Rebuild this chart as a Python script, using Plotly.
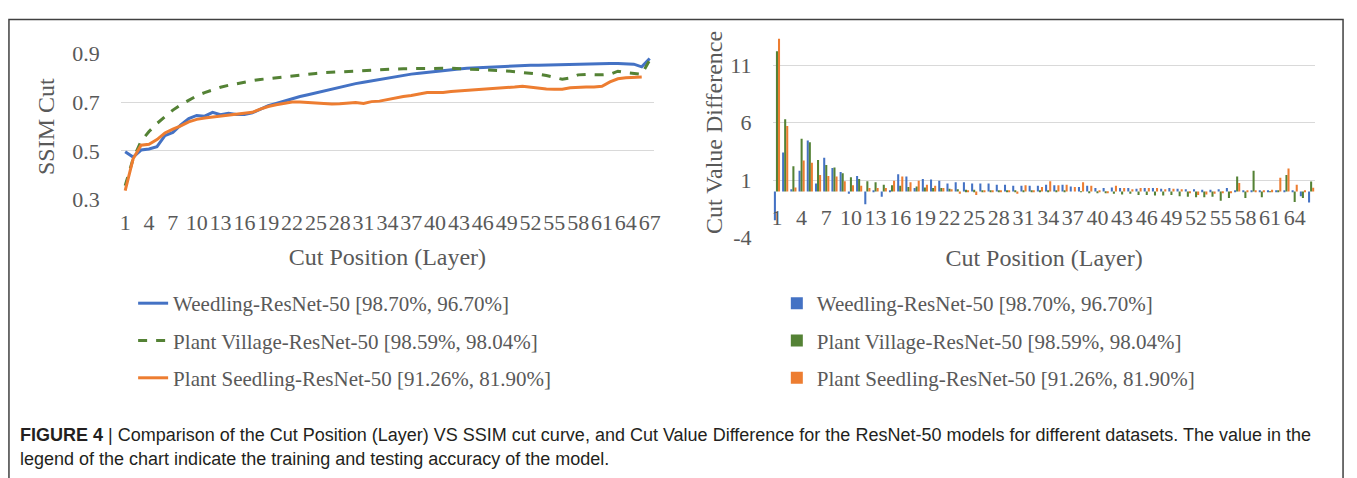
import plotly.graph_objects as go

W, H = 1357, 478

# ---------------- data ----------------
layers_line = list(range(1, 68))          # cut positions for the SSIM curve
layers_bar = list(range(1, 67))           # cut positions for the difference bars
line_ticks = list(range(1, 68, 3))
bar_ticks = list(range(1, 67, 3))

series_names = [
    "Weedling-ResNet-50 [98.70%, 96.70%]",
    "Plant Village-ResNet-50 [98.59%, 98.04%]",
    "Plant Seedling-ResNet-50 [91.26%, 81.90%]",
]

ssim_weedling = [0.497, 0.475, 0.504, 0.508, 0.518, 0.563, 0.576, 0.607, 0.633, 0.646,
                 0.643, 0.659, 0.649, 0.655, 0.650, 0.650, 0.657, 0.672, 0.686, 0.695,
                 0.705, 0.716, 0.724, 0.731, 0.739, 0.747, 0.756, 0.763, 0.770, 0.777,
                 0.783, 0.789, 0.795, 0.800, 0.805, 0.810, 0.816, 0.820, 0.824, 0.828,
                 0.832, 0.834, 0.837, 0.840, 0.842, 0.843, 0.846, 0.847, 0.849, 0.850,
                 0.851, 0.853, 0.853, 0.854, 0.854, 0.855, 0.858, 0.859, 0.860, 0.860,
                 0.860, 0.860, 0.860, 0.859, 0.857, 0.846, 0.880]

ssim_village = [0.357, 0.468, 0.540, 0.580, 0.613, 0.642, 0.668, 0.690, 0.710, 0.727,
                0.740, 0.752, 0.762, 0.770, 0.777, 0.783, 0.789, 0.794, 0.798, 0.802,
                0.806, 0.810, 0.813, 0.816, 0.819, 0.822, 0.824, 0.826, 0.828, 0.830,
                0.832, 0.834, 0.835, 0.836, 0.837, 0.838, 0.839, 0.840, 0.840, 0.840,
                0.840, 0.840, 0.839, 0.838, 0.837, 0.835, 0.833, 0.831, 0.829, 0.826,
                0.823, 0.820, 0.816, 0.810, 0.803, 0.795, 0.800, 0.813, 0.815, 0.813,
                0.813, 0.815, 0.828, 0.822, 0.818, 0.815, 0.874]

ssim_seedling = [0.337, 0.468, 0.524, 0.528, 0.547, 0.574, 0.590, 0.603, 0.620, 0.630,
                 0.636, 0.640, 0.643, 0.646, 0.650, 0.657, 0.659, 0.672, 0.683, 0.690,
                 0.695, 0.701, 0.701, 0.699, 0.695, 0.694, 0.693, 0.694, 0.696, 0.699,
                 0.695, 0.703, 0.705, 0.712, 0.718, 0.724, 0.728, 0.734, 0.740, 0.741,
                 0.741, 0.745, 0.747, 0.750, 0.751, 0.753, 0.755, 0.758, 0.760, 0.763,
                 0.766, 0.762, 0.758, 0.755, 0.754, 0.754, 0.760, 0.763, 0.763, 0.763,
                 0.766, 0.784, 0.797, 0.801, 0.804, 0.804]

diff_weedling = [-2.5, 3.4, 0.2, 1.8, 4.45, 0.7, 2.95, 2.05, 1.7, -0.2,
                 1.35, -1.1, 0.05, -0.45, 0.1, 1.5, 1.3, 0.3, 1.1, 1.05,
                 0.95, 0.7, 0.8, 0.8, 0.7, 0.7, 0.7, 0.6, 0.6, 0.5,
                 0.5, 0.5, 0.5, 0.6, 0.55, 0.6, 0.45, 0.4, 0.5, 0.3,
                 0.3, 0.35, 0.3, 0.3, 0.25, 0.3, 0.3, 0.25, 0.3, 0.25,
                 0.2, 0.2, 0.15, 0.15, 0.2, 0.3, 0.05, 0.1, 0.05, 0.05,
                 0.05, 0.05, 0.05, 0.1, -0.4, -0.95]

diff_village = [12.2, 6.3, 2.2, 4.6, 4.3, 2.75, 2.3, 2.1, 1.6, 1.25,
                1.1, 0.9, 0.8, 0.6, 0.55, 0.5, 0.4, 0.45, 0.35, 0.3,
                0.3, 0.25, 0.2, 0.15, 0.15, 0.1, 0.1, 0.1, 0.05, 0.05,
                0.05, 0.05, 0.05, 0.05, 0.05, 0.05, 0.0, -0.05, -0.1, -0.1,
                -0.15, -0.2, -0.25, -0.2, -0.3, -0.3, -0.35, -0.35, -0.3, -0.4,
                -0.45, -0.5, -0.5, -0.45, -0.8, -0.55, 1.3, -0.55, 1.8, -0.5,
                -0.05, 0.05, 1.45, -0.9, -0.55, 0.87]

diff_seedling = [13.3, 5.7, 0.35, 2.7, 2.5, 1.45, 1.35, 1.3, 0.9, 0.55,
                 0.5, 0.3, 0.3, 0.3, 0.95, 1.3, 0.8, 0.95, 0.6, 0.5,
                 0.3, 0.2, -0.2, 0.1, -0.3, 0.1, 0.1, 0.1, 0.1, -0.2,
                 0.55, 0.1, 0.4, 0.9, 0.55, 0.6, 0.4, 0.8, 0.5, 0.1,
                 -0.15, 0.5, 0.3, 0.2, 0.3, 0.3, 0.3, 0.2, 0.25, 0.2,
                 -0.1, -0.3, -0.25, -0.2, -0.15, -0.1, 0.75, 0.1, 0.1, 0.05,
                 0.15, 1.2, 2.0, 0.6, 0.05, 0.33]

# ---------------- style ----------------
BLUE, GREEN, ORANGE = "#4472C4", "#548235", "#ED7D31"
GRID = "#d9d9d9"
TXT = "#595959"
SERIF = "Liberation Serif, Times New Roman, serif"
SANS = "Liberation Sans, Arial, sans-serif"

def px_x(p):
    return p / W

def px_y(p):
    return 1 - p / H

fig = go.Figure()

# left: line chart
fig.add_trace(go.Scatter(x=layers_line, y=ssim_weedling, mode="lines", name=series_names[0],
                         line=dict(color=BLUE, width=3), xaxis="x", yaxis="y",
                         legend="legend", legendgroup="a"))
fig.add_trace(go.Scatter(x=layers_line, y=ssim_village, mode="lines", name=series_names[1],
                         line=dict(color=GREEN, width=3, dash="dash"), xaxis="x", yaxis="y",
                         legend="legend", legendgroup="b"))
fig.add_trace(go.Scatter(x=layers_line[:len(ssim_seedling)], y=ssim_seedling, mode="lines",
                         name=series_names[2], line=dict(color=ORANGE, width=3),
                         xaxis="x", yaxis="y", legend="legend", legendgroup="c"))

# right: bar chart
for vals, col, nm, g in [(diff_weedling, BLUE, series_names[0], "d"),
                         (diff_village, GREEN, series_names[1], "e"),
                         (diff_seedling, ORANGE, series_names[2], "f")]:
    fig.add_trace(go.Bar(x=layers_bar, y=vals, name=nm, marker=dict(color=col, line=dict(width=0)),
                         xaxis="x2", yaxis="y2", legend="legend2", legendgroup=g))

tick_font = dict(family=SERIF, size=22, color=TXT)
title_font = dict(family=SERIF, size=24, color=TXT)
legend_font = dict(family=SERIF, size=21, color=TXT)

fig.update_layout(
    width=W, height=H,
    margin=dict(l=0, r=0, t=0, b=0),
    paper_bgcolor="white", plot_bgcolor="white",
    barmode="group", bargap=0.25, bargroupgap=0,
    showlegend=True,
    xaxis=dict(domain=[px_x(120), px_x(656)], range=[0.5, 67.5], tickvals=line_ticks,
               ticktext=[str(t) for t in line_ticks], showgrid=False, zeroline=False,
               showline=False, ticks="outside", ticklen=3, tickcolor="rgba(0,0,0,0)",
               tickfont=tick_font, tickangle=0,
               title=dict(text="Cut Position (Layer)", font=title_font, standoff=14),
               anchor="y"),
    yaxis=dict(domain=[px_y(198), px_y(44)], range=[0.3, 0.9], tickvals=[0.3, 0.5, 0.7, 0.9],
               ticktext=["0.3", "0.5", "0.7", "0.9"], showgrid=True, gridcolor=GRID, gridwidth=1,
               zeroline=False, showline=False, ticks="outside", ticklen=16,
               tickcolor="rgba(0,0,0,0)", tickfont=tick_font,
               title=dict(text="SSIM Cut", font=title_font, standoff=10), anchor="x"),
    xaxis2=dict(domain=[px_x(776), px_x(1322)], range=[0.5, 66.5], tickvals=bar_ticks,
                ticktext=[str(t) for t in bar_ticks], showgrid=False, zeroline=False,
                showline=False, ticks="outside", ticklen=6, tickcolor="rgba(0,0,0,0)",
                tickfont=tick_font, tickangle=0, anchor="free", position=px_y(190),
                title=dict(text="Cut Position (Layer)", font=title_font, standoff=19)),
    yaxis2=dict(domain=[px_y(238), px_y(16)], range=[-4, 14.3], tickvals=[-4, 1, 6, 11],
                ticktext=["-4", "1", "6", "11"], showgrid=True, gridcolor=GRID, gridwidth=1,
                zeroline=False, showline=False, ticks="outside", ticklen=16,
                tickcolor="rgba(0,0,0,0)", tickfont=tick_font,
                title=dict(text="Cut Value Difference", font=title_font, standoff=0),
                anchor="x2"),
    legend=dict(x=px_x(132), y=px_y(286), xanchor="left", yanchor="top",
                font=legend_font, tracegroupgap=7,
                bgcolor="rgba(0,0,0,0)", itemclick=False),
    legend2=dict(x=px_x(780), y=px_y(286), xanchor="left", yanchor="top",
                 font=legend_font, tracegroupgap=7,
                 bgcolor="rgba(0,0,0,0)", itemclick=False),
)

# caption
fig.add_annotation(xref="paper", yref="paper", x=px_x(16), y=px_y(446), xanchor="left",
                   yanchor="middle", showarrow=False, align="left",
                   text="<b>FIGURE 4</b> | Comparison of the Cut Position (Layer) VS SSIM cut curve, and Cut Value Difference for the ResNet-50 models for different datasets. The value in the",
                   font=dict(family=SANS, size=18, color="#231f20"))
fig.add_annotation(xref="paper", yref="paper", x=px_x(16), y=px_y(472), xanchor="left",
                   yanchor="middle", showarrow=False, align="left",
                   text="legend of the chart indicate the training and testing accuracy of the model.",
                   font=dict(family=SANS, size=18, color="#231f20"))

# frame around the figure
fig.add_shape(type="rect", xref="paper", yref="paper", x0=px_x(7), x1=px_x(1350),
              y0=-0.05, y1=px_y(8), line=dict(color="#404040", width=1.5),
              fillcolor="rgba(0,0,0,0)", layer="above")

fig.write_html("out.html")
